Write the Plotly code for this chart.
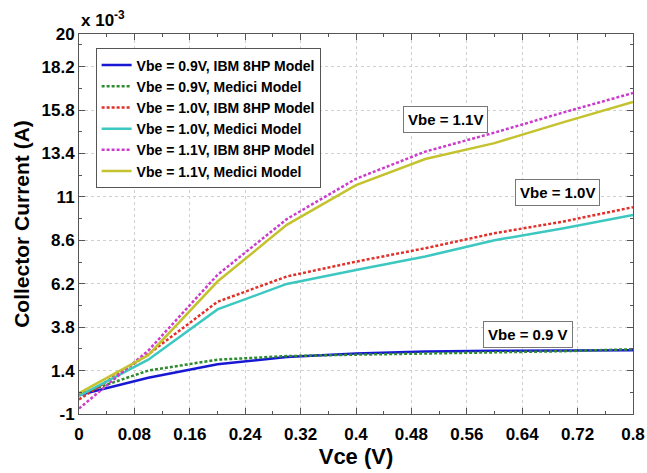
import plotly.graph_objects as go

# Data (collector current in units of 1e-3 A)
vce = [0.0, 0.1, 0.2, 0.3, 0.4, 0.5, 0.6, 0.7, 0.8]
ic_09_ibm = [0.05, 1.0, 1.75, 2.15, 2.35, 2.45, 2.5, 2.52, 2.52]
ic_09_medici = [0.1, 1.4, 2.0, 2.2, 2.28, 2.33, 2.4, 2.47, 2.58]
ic_10_ibm = [-0.2, 2.3, 5.2, 6.6, 7.42, 8.16, 8.99, 9.64, 10.43]
ic_10_medici = [0.0, 2.0, 4.78, 6.19, 6.96, 7.7, 8.6, 9.27, 10.0]
ic_11_ibm = [-0.7, 2.5, 6.69, 9.77, 12.0, 13.5, 14.55, 15.67, 16.74]
ic_11_medici = [0.15, 2.25, 6.32, 9.45, 11.65, 13.09, 13.97, 15.13, 16.24]

series_names = [
    "Vbe = 0.9V, IBM 8HP Model",
    "Vbe = 0.9V, Medici Model",
    "Vbe = 1.0V, IBM 8HP Model",
    "Vbe = 1.0V, Medici Model",
    "Vbe = 1.1V, IBM 8HP Model",
    "Vbe = 1.1V, Medici Model",
]
series_values = [ic_09_ibm, ic_09_medici, ic_10_ibm, ic_10_medici, ic_11_ibm, ic_11_medici]
series_colors = ["#1818d4", "#2e8b2e", "#e0302a", "#3cc8c0", "#cc3ccc", "#c4c22e"]
series_dash = ["solid", "3px,2px", "3px,2px", "solid", "3px,2px", "solid"]

x_ticks = [0, 0.08, 0.16, 0.24, 0.32, 0.4, 0.48, 0.56, 0.64, 0.72, 0.8]
x_tick_labels = ["0", "0.08", "0.16", "0.24", "0.32", "0.4", "0.48", "0.56", "0.64", "0.72", "0.8"]
y_ticks = [-1, 1.4, 3.8, 6.2, 8.6, 11, 13.4, 15.8, 18.2, 20]
y_tick_labels = ["-1", "1.4", "3.8", "6.2", "8.6", "11", "13.4", "15.8", "18.2", "20"]

labels = ["Vbe = 1.1V", "Vbe = 1.0V", "Vbe = 0.9 V"]
label_x = [0.529, 0.691, 0.648]
label_y = [15.26, 11.22, 3.37]

FONT = "Liberation Sans, Arial, sans-serif"

fig = go.Figure()
for name, vals, col, dash in zip(series_names, series_values, series_colors, series_dash):
    fig.add_trace(go.Scatter(
        x=vce, y=vals, mode="lines", name=name,
        line=dict(color=col, width=2.5, dash=dash),
    ))

for t, lx, ly in zip(labels, label_x, label_y):
    fig.add_annotation(
        x=lx, y=ly, text=t, showarrow=False,
        font=dict(family=FONT, size=15, color="black", weight="bold"),
        bgcolor="white", bordercolor="#777777", borderwidth=1, borderpad=4,
    )

fig.add_annotation(
    x=0, y=1, xref="paper", yref="paper", xanchor="left", yanchor="bottom",
    text="x 10<sup>-3</sup>", showarrow=False, yshift=2,
    font=dict(family=FONT, size=17, color="black", weight="bold"),
)

axis_common = dict(
    showline=True, linecolor="#555555", linewidth=1, mirror="allticks",
    ticks="inside", ticklen=6, tickcolor="#555555",
    showgrid=True, gridcolor="#cfcfcf", griddash="dot", gridwidth=1,
    zeroline=False, ticklabeloverflow="allow", automargin=False,
    tickfont=dict(family=FONT, size=17, color="black", weight="bold"),
)

fig.update_xaxes(
    range=[0, 0.8], tickvals=x_ticks, ticktext=x_tick_labels,
    ticklabelstandoff=5,
    title=dict(text="Vce (V)", font=dict(family=FONT, size=22, color="black", weight="bold"), standoff=4),
    minor=dict(ticks="inside", ticklen=3, tickcolor="#555555", tick0=0, dtick=0.04, showgrid=False),
    **axis_common,
)
fig.update_yaxes(
    range=[-1, 20], tickvals=y_ticks, ticktext=y_tick_labels,
    title=dict(text="Collector Current (A)", font=dict(family=FONT, size=21, color="black", weight="bold"), standoff=6),
    minor=dict(ticks="inside", ticklen=3, tickcolor="#555555", tick0=-1, dtick=1.2, showgrid=False),
    **axis_common,
)

fig.update_layout(
    width=647, height=473,
    margin=dict(l=79, r=14, t=34, b=59, autoexpand=False),
    paper_bgcolor="white", plot_bgcolor="white",
    showlegend=True,
    legend=dict(
        x=0.03, y=0.962, xanchor="left", yanchor="top",
        bgcolor="white", bordercolor="#555555", borderwidth=1,
        font=dict(family=FONT, size=14, color="black", weight="bold"),
        itemwidth=30, tracegroupgap=0,
    ),
)

fig.write_html("out.html")
